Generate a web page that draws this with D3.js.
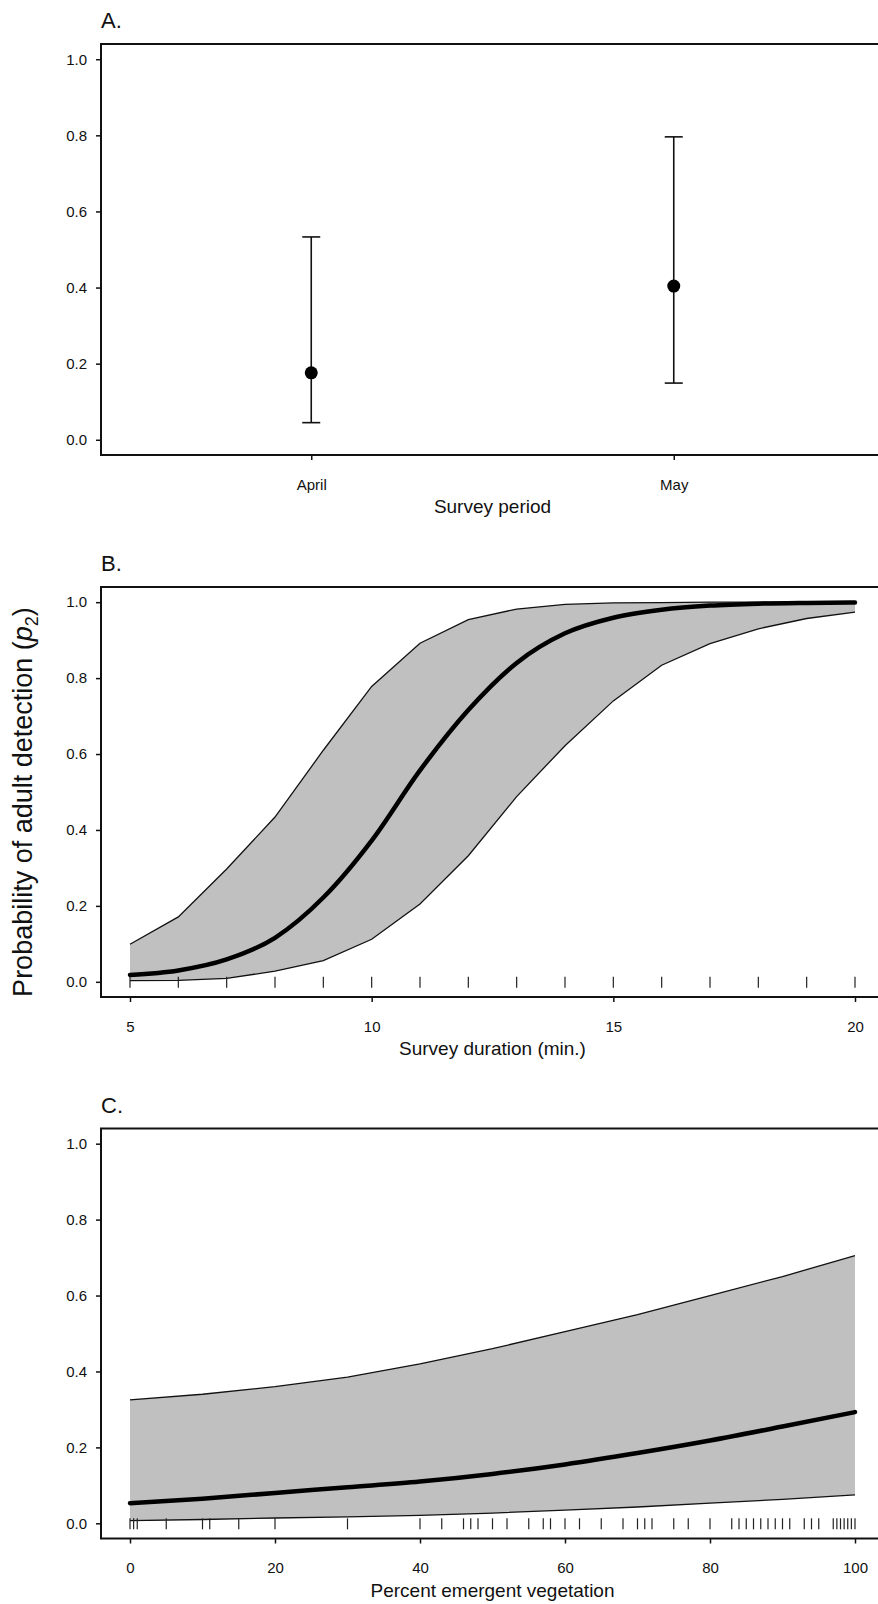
<!DOCTYPE html>
<html>
<head>
<meta charset="utf-8">
<script src="https://cdn.jsdelivr.net/npm/d3@7"></script>
<style>
  html, body { margin: 0; padding: 0; background: #fff; }
  svg { display: block; }
  text { font-family: "Liberation Sans", Arial, sans-serif; fill: #111; }
</style>
</head>
<body>
<svg id="chart" width="878" height="1604"></svg>
<script>
// ---- Panel A: survey period ----
const periods = ["April", "May"];
const periodMean = [0.176, 0.404];
const periodLower = [0.045, 0.149];
const periodUpper = [0.533, 0.796];

// ---- Panel B: survey duration (min.) ----
const durations = [5, 6, 7, 8, 9, 10, 11, 12, 13, 14, 15, 16, 17, 18, 19, 20];
const durMean  = [0.018, 0.030, 0.059, 0.116, 0.222, 0.372, 0.557, 0.716, 0.840, 0.918, 0.959, 0.980, 0.991, 0.996, 0.998, 0.999];
const durUpper = [0.099, 0.171, 0.297, 0.434, 0.610, 0.778, 0.892, 0.954, 0.982, 0.994, 0.998, 0.999, 1.000, 1.000, 1.000, 1.000];
const durLower = [0.003, 0.004, 0.009, 0.028, 0.056, 0.112, 0.205, 0.332, 0.488, 0.622, 0.740, 0.834, 0.891, 0.930, 0.957, 0.974];
const durRug   = [5, 6, 7, 8, 9, 10, 11, 12, 13, 14, 15, 16, 17, 18, 19, 20];

// ---- Panel C: percent emergent vegetation ----
const vegPct   = [0, 10, 20, 30, 40, 50, 60, 70, 80, 90, 100];
const vegMean  = [0.053, 0.065, 0.080, 0.095, 0.110, 0.130, 0.155, 0.185, 0.218, 0.255, 0.293];
const vegUpper = [0.325, 0.340, 0.360, 0.385, 0.420, 0.460, 0.505, 0.550, 0.600, 0.650, 0.705];
const vegLower = [0.007, 0.010, 0.014, 0.017, 0.021, 0.027, 0.035, 0.043, 0.053, 0.063, 0.075];
const vegRug   = [0, 0.5, 1, 5, 10, 11, 15, 20, 30, 40, 43, 46, 47, 48, 50, 52, 55, 57, 58, 60, 62, 65, 68, 70, 71, 72, 75, 77, 80, 83, 84, 85, 86, 87, 88, 89, 90, 91, 93, 94, 95, 97, 97.5, 98, 98.5, 99, 99.5, 100];

// ---- tick labels ----
const yTicks = [0, 0.2, 0.4, 0.6, 0.8, 1.0];
const durTicks = [5, 10, 15, 20];
const vegTicks = [0, 20, 40, 60, 80, 100];

const svg = d3.select("#chart");
const left = 101, right = 884;
const panels = [
  { letter: "A.", top: 44, bottom: 455, title: "Survey period" },
  { letter: "B.", top: 587, bottom: 997, title: "Survey duration (min.)" },
  { letter: "C.", top: 1128.5, bottom: 1538.5, title: "Percent emergent vegetation" }
];
const fmt = d3.format(".1f");
const tickFont = 15;

function frame(p) {
  const g = svg.append("g");
  const y = d3.scaleLinear().domain([-0.04, 1.04]).range([p.bottom, p.top]);
  const ya = g.append("g").attr("transform", `translate(${left},0)`)
    .call(d3.axisLeft(y).tickValues(yTicks).tickFormat(fmt).tickSize(5).tickPadding(9));
  ya.select(".domain").remove();
  ya.selectAll("line").attr("stroke", "#111").attr("stroke-width", 1.5);
  ya.selectAll("text").attr("font-size", tickFont).attr("fill", "#111")
    .style("font-family", '"Liberation Sans", Arial, sans-serif');
  g.append("text").attr("x", left).attr("y", p.top - 16)
    .attr("font-size", 22).text(p.letter);
  g.append("text").attr("x", (130 + 855) / 2).attr("y", p.bottom + 58)
    .attr("text-anchor", "middle").attr("font-size", 19).text(p.title);
  return { g, y };
}

function box(g, p) {
  g.append("rect").attr("x", left).attr("y", p.top)
    .attr("width", right - left).attr("height", p.bottom - p.top)
    .attr("fill", "none").attr("stroke", "#111").attr("stroke-width", 2);
}

function xAxis(g, p, scale, ticks) {
  const xa = g.append("g").attr("transform", `translate(0,${p.bottom})`)
    .call(d3.axisBottom(scale).tickValues(ticks).tickSize(5).tickPadding(19)
      .tickFormat(d => d));
  xa.select(".domain").remove();
  xa.selectAll("line").attr("stroke", "#111").attr("stroke-width", 1.5);
  xa.selectAll("text").attr("font-size", tickFont).attr("fill", "#111")
    .style("font-family", '"Liberation Sans", Arial, sans-serif');
}

// ---------- Panel A ----------
{
  const p = panels[0];
  const { g, y } = frame(p);
  const x = d3.scalePoint().domain(periods).range([left, right]).padding(0.58);
  xAxis(g, p, x, periods);
  const data = periods.map((k, i) => ({ k, m: periodMean[i], lo: periodLower[i], hi: periodUpper[i] }));
  const eb = g.append("g").attr("stroke", "#111").attr("stroke-width", 1.6);
  eb.selectAll(".v").data(data).join("line")
    .attr("x1", d => x(d.k)).attr("x2", d => x(d.k))
    .attr("y1", d => y(d.lo)).attr("y2", d => y(d.hi));
  eb.selectAll(".lc").data(data).join("line")
    .attr("x1", d => x(d.k) - 9).attr("x2", d => x(d.k) + 9)
    .attr("y1", d => y(d.lo)).attr("y2", d => y(d.lo));
  eb.selectAll(".uc").data(data).join("line")
    .attr("x1", d => x(d.k) - 9).attr("x2", d => x(d.k) + 9)
    .attr("y1", d => y(d.hi)).attr("y2", d => y(d.hi));
  g.selectAll("circle").data(data).join("circle")
    .attr("cx", d => x(d.k)).attr("cy", d => y(d.m)).attr("r", 6.5).attr("fill", "#000");
  box(g, p);
}

function curvePanel(p, xs, mean, lo, hi, rug, domain, ticks) {
  const { g, y } = frame(p);
  const x = d3.scaleLinear().domain(domain).range([left, right]);
  const data = xs.map((v, i) => ({ v, m: mean[i], lo: lo[i], hi: hi[i] }));
  g.append("path").datum(data)
    .attr("d", d3.area().x(d => x(d.v)).y0(d => y(d.lo)).y1(d => y(d.hi)))
    .attr("fill", "#c0c0c0");
  g.append("path").datum(data)
    .attr("d", d3.line().x(d => x(d.v)).y(d => y(d.hi)))
    .attr("fill", "none").attr("stroke", "#111").attr("stroke-width", 1.3);
  g.append("path").datum(data)
    .attr("d", d3.line().x(d => x(d.v)).y(d => y(d.lo)))
    .attr("fill", "none").attr("stroke", "#111").attr("stroke-width", 1.3);
  g.append("path").datum(data)
    .attr("d", d3.line().curve(d3.curveMonotoneX).x(d => x(d.v)).y(d => y(d.m)))
    .attr("fill", "none").attr("stroke", "#000").attr("stroke-width", 4.5)
    .attr("stroke-linejoin", "round").attr("stroke-linecap", "round");
  g.append("g").selectAll("line").data(rug).join("line")
    .attr("x1", d => x(d)).attr("x2", d => x(d))
    .attr("y1", y(0) - 5).attr("y2", y(0) + 6)
    .attr("stroke", "#222").attr("stroke-width", 1.2);
  xAxis(g, p, x, ticks);
  box(g, p);
}

curvePanel(panels[1], durations, durMean, durLower, durUpper, durRug, [4.4, 20.6], durTicks);
curvePanel(panels[2], vegPct, vegMean, vegLower, vegUpper, vegRug, [-4, 104], vegTicks);

// shared y-axis title
const yl = svg.append("text")
  .attr("transform", "translate(32,802) rotate(-90)")
  .attr("text-anchor", "middle").attr("font-size", 27);
yl.append("tspan").text("Probability of adult detection (");
yl.append("tspan").attr("font-style", "italic").text("p");
yl.append("tspan").attr("font-size", 18).attr("dy", 6).text("2");
yl.append("tspan").attr("dy", -6).text(")");
</script>
</body>
</html>
